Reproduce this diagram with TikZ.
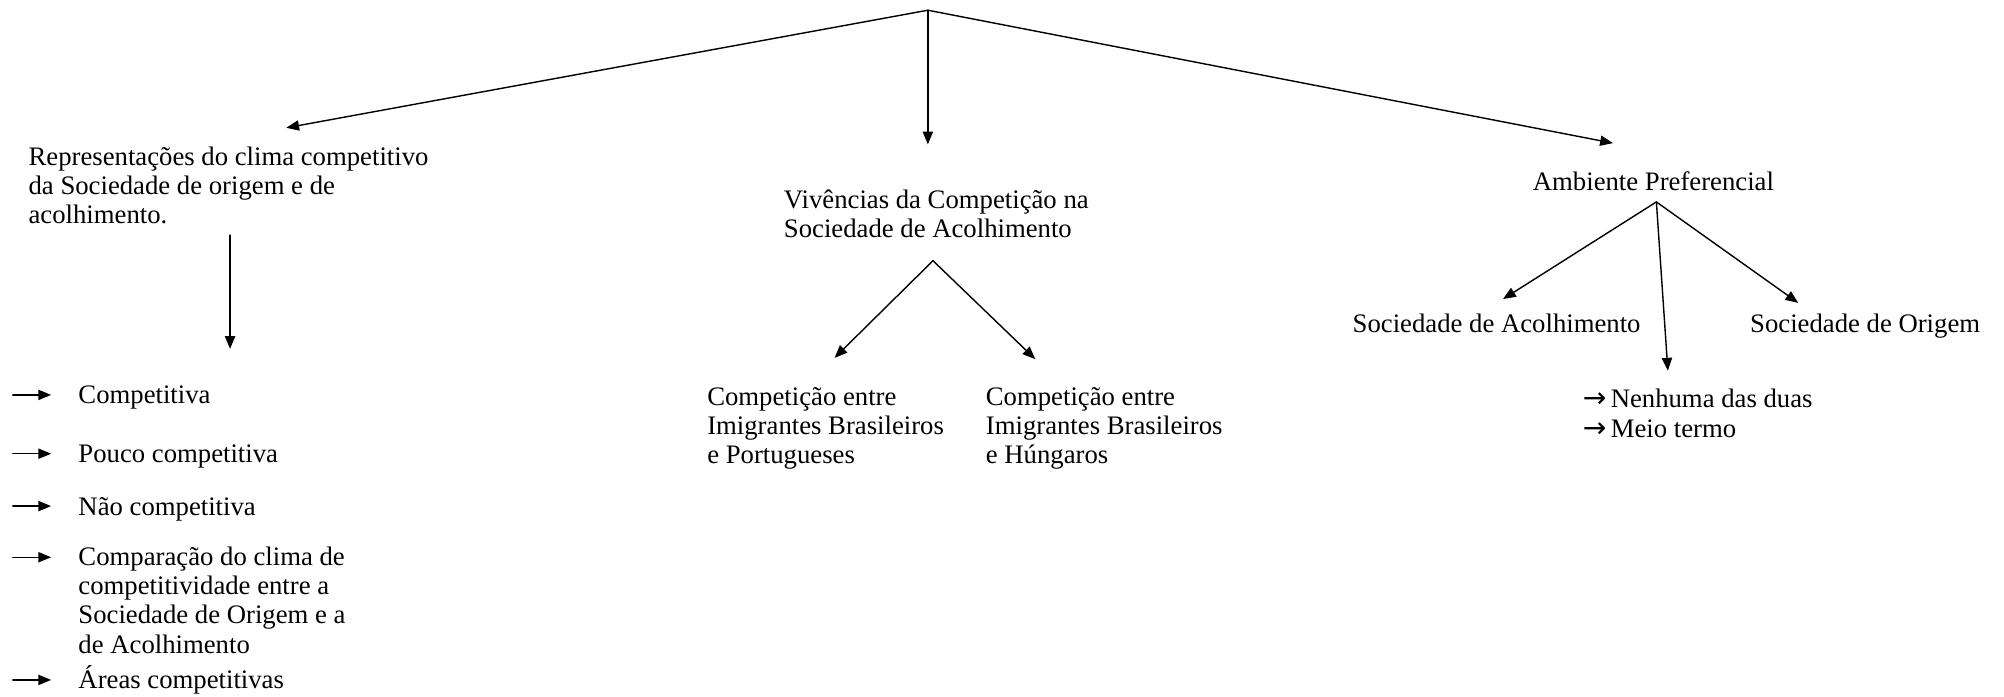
\documentclass[tikz,border=0pt]{standalone}
\usepackage{amsmath}
\usepackage[usenames,dvipsnames]{xcolor}
\usepackage{tkz-euclide}
\usepackage{fontspec}
\setmainfont{Liberation Serif}
\newfontfamily\arrowfont{DejaVu Sans}
\usetikzlibrary{arrows.meta}
\newcommand{\lblfont}{\fontsize{10.45pt}{11.4pt}\selectfont}
\newcommand{\seta}{{\arrowfont\fontsize{11pt}{11.4pt}\selectfont →}}
\tikzset{
  lbl/.style={inner sep=0pt, anchor=base west, align=left, font=\lblfont},
  seta/.style={draw=black, line width=0.55pt, -{Triangle[length=5pt,width=4pt]}}
}
\begin{document}
\begin{tikzpicture}[x=0.5pt,y=-0.5pt]
		\useasboundingbox (0,0) rectangle (1568,545);
		\tkzDefPoint(726,8){t_{0}}
		\tkzDefPoint(224,100){t_{1}}\tkzDefPoint(726,113){t_{2}}\tkzDefPoint(1262,112){t_{3}}
		\tkzDefPoint(180,184){r_{0}}\tkzDefPoint(180,273){r_{1}}
		\tkzDefPoint(730,204){m_{0}}
		\tkzDefPoint(653,280){m_{1}}\tkzDefPoint(810,281){m_{2}}
		\tkzDefPoint(1296,158){a_{0}}
		\tkzDefPoint(1176,234){a_{1}}\tkzDefPoint(1305,290){a_{2}}\tkzDefPoint(1407,237){a_{3}}
		\tkzDefPoint(10,309){l_{1}}\tkzDefPoint(40,309){k_{1}}
		\tkzDefPoint(10,355){l_{2}}\tkzDefPoint(40,355){k_{2}}
		\tkzDefPoint(10,396){l_{3}}\tkzDefPoint(40,396){k_{3}}
		\tkzDefPoint(10,436){l_{4}}\tkzDefPoint(40,436){k_{4}}
		\tkzDefPoint(10,532){l_{5}}\tkzDefPoint(40,532){k_{5}}
		\tkzDrawSegments[seta](t_{0},t_{1} t_{0},t_{2} t_{0},t_{3})
		\tkzDrawSegments[seta](r_{0},r_{1})
		\tkzDrawSegments[seta](m_{0},m_{1} m_{0},m_{2})
		\tkzDrawSegments[seta](a_{0},a_{1} a_{0},a_{2} a_{0},a_{3})
		\tkzDrawSegments[seta](l_{1},k_{1} l_{2},k_{2} l_{3},k_{3} l_{4},k_{4} l_{5},k_{5})
		% multi-line labels sit on their last line
		\node[lbl] (rep) at (22,175) {Representações do clima competitivo\\da Sociedade de origem e de\\acolhimento.};
		\node[lbl] (cmp) at (61,316) {Competitiva};
		\node[lbl] (pco) at (61,362) {Pouco competitiva};
		\node[lbl] (nco) at (61,403) {Não competitiva};
		\node[lbl] (cpr) at (61,511) {Comparação do clima de\\competitividade entre a\\Sociedade de Origem e a\\de Acolhimento};
		\node[lbl] (are) at (61,539) {Áreas competitivas};
		\node[lbl] (viv) at (613,186) {Vivências da Competição na\\Sociedade de Acolhimento};
		\node[lbl] (cbp) at (553,363) {Competição entre\\Imigrantes Brasileiros\\e Portugueses};
		\node[lbl] (cbh) at (771,363) {Competição entre\\Imigrantes Brasileiros\\e Húngaros};
		\node[lbl] (amb) at (1199,149) {Ambiente Preferencial};
		\node[lbl] (sac) at (1058,260) {Sociedade de Acolhimento};
		\node[lbl] (sor) at (1369,260) {Sociedade de Origem};
		\node[lbl] (mei) at (1238,342) {\seta\,Nenhuma das duas\\\seta\,Meio termo};
	\end{tikzpicture}
\end{document}
